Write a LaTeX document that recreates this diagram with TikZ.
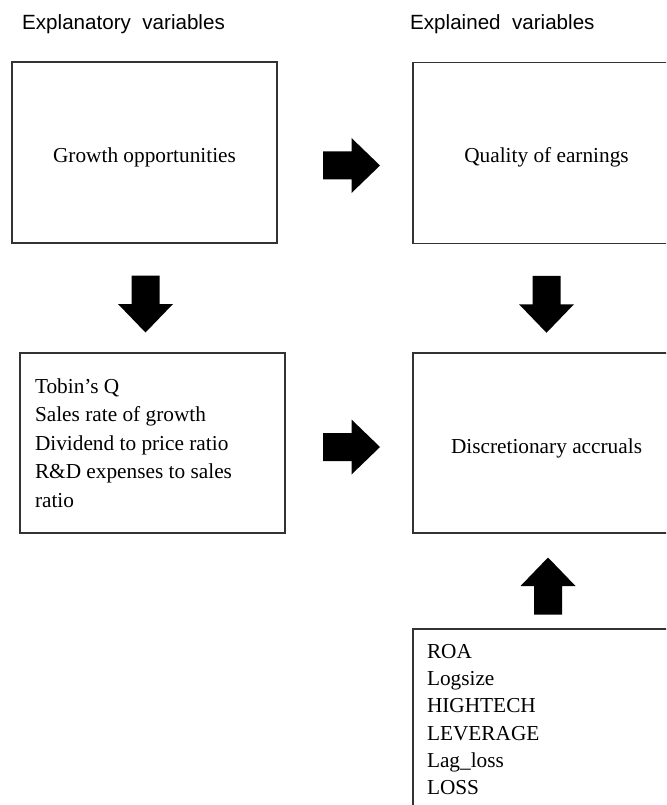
\documentclass[tikz,border=0pt]{standalone}
\usepackage{fontspec}
\setmainfont{Liberation Serif}
\newfontfamily\headfont{Liberation Sans}
\usetikzlibrary{calc}

\tikzset{
  varbox/.style={draw=black!80, line width=1.5pt, inner sep=0pt,
    minimum width=265pt, minimum height=181pt,
    text height=20pt, text depth=0pt,
    font=\fontsize{21.3}{28.5}\selectfont},
  listbox/.style={varbox, align=flush left, inner xsep=15pt, text width=235pt,
    text height=, text depth=},
  heading/.style={anchor=base west, inner sep=0pt,
    font=\headfont\fontsize{20.6}{24}\selectfont},
  fatarrow/.pic={
    \fill (-28.5,-14) -- (0,-14) -- (0,-27.5) -- (28.5,0)
          -- (0,27.5) -- (0,14) -- (-28.5,14) -- cycle;
  }
}

\begin{document}
\begin{tikzpicture}[x=1pt,y=-1pt]
    \useasboundingbox (0,0) rectangle (666,805);
    \clip (0,0) rectangle (666,805);

    % headings
    \node[heading] (hdleft) at (22,30) {Explanatory\ \ variables};
    \node[heading] (hdright) at (410,30) {Explained\ \ variables};

    % boxes
    \node[varbox] (growth) at (144.5,152.5) {Growth opportunities};
    \node[varbox, minimum width=267pt] (quality) at (546.5,153) {Quality of earnings};
    \node[listbox, minimum height=180pt] (proxies) at (152.5,443) {Tobin's Q\\
        Sales rate of growth\\
        Dividend to price ratio\\
        R\&D expenses to sales\\
        ratio};
    \node[varbox, minimum width=267pt, minimum height=180pt] (accruals) at (546.5,443) {Discretionary accruals};
    \node[listbox, inner xsep=14pt, text width=239pt,
          font=\fontsize{21.3}{27.2}\selectfont] (controls) at (546.5,719.5) {ROA\\
        Logsize\\
        HIGHTECH\\
        LEVERAGE\\
        Lag\_loss\\
        LOSS};

    % block arrows
    \pic[shift={(6.5,12.75)}] at ($(growth.east)!0.5!(quality.west)$) {fatarrow};
    \pic[shift={(2.5,4)}] at ($(proxies.east)!0.5!(accruals.west)$) {fatarrow};
    \pic[shift={(-3,6)},rotate=-90] at ($(growth.south)!0.5!(proxies.north)$) {fatarrow};
    \pic[shift={(0,6)},rotate=-90] at ($(quality.south)!0.5!(accruals.north)$) {fatarrow};
    \pic[shift={(1.5,5)},rotate=90] at ($(controls.north)!0.5!(accruals.south)$) {fatarrow};
\end{tikzpicture}
\end{document}
